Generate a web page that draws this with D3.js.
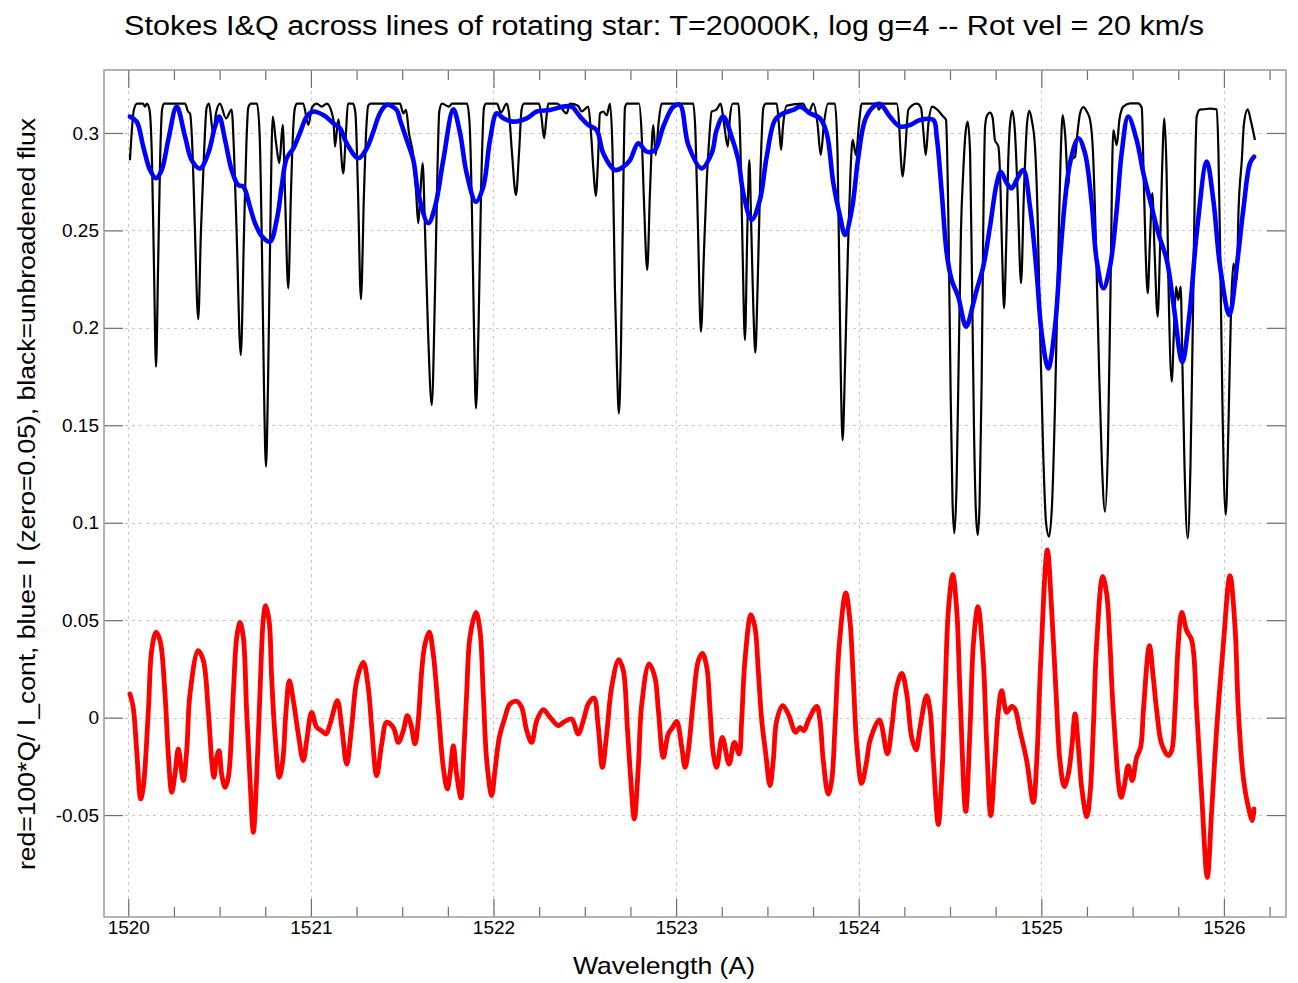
<!DOCTYPE html>
<html>
<head>
<meta charset="utf-8">
<script src="https://cdn.jsdelivr.net/npm/d3@7/dist/d3.min.js"></script>
<style>
  html, body { margin: 0; padding: 0; background: #fff; }
  svg { display: block; font-family: "Liberation Sans", Arial, Helvetica, sans-serif; }
</style>
</head>
<body>
<svg id="chart" width="1298" height="983"></svg>
<script>
// Unbroadened flux (black)
const wlBlack = [
  1520.009,1520.031,1520.048,1520.081,1520.091,1520.102,1520.116,1520.130,1520.141,1520.152,1520.163,1520.174,1520.185,1520.196,
  1520.311,1520.327,1520.338,1520.352,1520.365,1520.383,1520.398,1520.415,1520.429,1520.442,1520.466,1520.480,1520.502,1520.535,
  1520.566,1520.579,1520.593,1520.616,1520.634,1520.647,1520.657,1520.672,1520.705,1520.719,1520.732,1520.743,1520.754,1520.765,
  1520.776,1520.791,1520.809,1520.827,1520.846,1520.858,1520.876,1520.891,1520.902,1520.913,1520.924,1520.958,1520.986,1521.006,
  1521.032,1521.059,1521.087,1521.123,1521.132,1521.150,1521.177,1521.192,1521.203,1521.231,1521.244,1521.258,1521.274,1521.291,
  1521.305,1521.314,1521.329,1521.488,1521.506,1521.521,1521.537,1521.561,1521.576,1521.588,1521.600,1521.612,1521.625,1521.641,
  1521.662,1521.680,1521.693,1521.703,1521.718,1521.756,1521.773,1521.855,1521.869,1521.882,1521.893,1521.904,1521.918,1521.932,
  1521.948,1521.959,1522.019,1522.041,1522.072,1522.085,1522.101,1522.123,1522.140,1522.154,1522.167,1522.249,1522.263,1522.277,
  1522.290,1522.300,1522.348,1522.401,1522.419,1522.463,1522.483,1522.519,1522.534,1522.548,1522.560,1522.572,1522.583,1522.601,
  1522.620,1522.638,1522.652,1522.665,1522.676,1522.687,1522.698,1522.709,1522.720,1522.731,1522.797,1522.811,1522.824,1522.842,
  1522.857,1522.875,1522.888,1522.904,1522.921,1523.094,1523.106,1523.120,1523.136,1523.153,1523.168,1523.180,1523.195,1523.219,
  1523.244,1523.262,1523.283,1523.295,1523.310,1523.341,1523.353,1523.364,1523.377,1523.390,1523.401,1523.412,1523.423,1523.434,
  1523.446,1523.462,1523.478,1523.492,1523.551,1523.564,1523.575,1523.585,1523.606,1523.695,1523.724,1523.751,1523.774,1523.792,
  1523.810,1523.832,1523.870,1523.884,1523.895,1523.903,1523.912,1523.925,1523.941,1523.955,1523.967,1523.985,1524.002,1524.016,
  1524.095,1524.111,1524.128,1524.208,1524.221,1524.229,1524.241,1524.254,1524.272,1524.318,1524.341,1524.355,1524.367,1524.382,
  1524.403,1524.463,1524.478,1524.492,1524.503,1524.514,1524.524,1524.536,1524.547,1524.560,1524.573,1524.585,1524.597,1524.610,
  1524.621,1524.631,1524.642,1524.652,1524.662,1524.673,1524.682,1524.692,1524.703,1524.719,1524.733,1524.746,1524.765,1524.777,
  1524.785,1524.796,1524.807,1524.819,1524.829,1524.841,1524.856,1524.870,1524.889,1524.905,1524.922,1524.934,1524.949,1524.966,
  1524.979,1524.993,1525.009,1525.026,1525.042,1525.059,1525.075,1525.091,1525.105,1525.117,1525.130,1525.148,1525.157,1525.185,
  1525.198,1525.212,1525.230,1525.249,1525.267,1525.283,1525.300,1525.316,1525.332,1525.349,1525.365,1525.379,1525.394,1525.413,
  1525.428,1525.449,1525.486,1525.530,1525.550,1525.560,1525.571,1525.583,1525.595,1525.608,1525.620,1525.637,1525.650,1525.661,
  1525.674,1525.686,1525.697,1525.714,1525.727,1525.738,1525.750,1525.763,1525.773,1525.784,1525.802,1525.817,1525.831,1525.842,
  1525.851,1525.869,1525.887,1525.924,1525.961,1525.970,1525.981,1525.992,1526.010,1526.025,1526.039,1526.052,1526.070,1526.080,
  1526.098,1526.110,1526.130,1526.148,1526.170
];
const fluxBlack = [
  0.286,0.312,0.315,0.315,0.3135,0.315,0.312,0.285,0.23,0.180,0.23,0.285,0.312,0.315,
  0.315,0.311,0.310,0.29,0.25,0.2044,0.25,0.29,0.313,0.315,0.299,0.31,0.315,0.3075,
  0.312,0.29,0.25,0.186,0.25,0.295,0.313,0.315,0.315,0.30,0.24,0.17,0.1288,0.17,
  0.24,0.3084,0.295,0.2845,0.3041,0.27,0.2203,0.27,0.30,0.313,0.315,0.315,0.3041,0.313,
  0.315,0.3135,0.315,0.307,0.293,0.307,0.2793,0.300,0.315,0.315,0.31,0.27,0.2147,0.27,
  0.305,0.314,0.315,0.315,0.310,0.3118,0.30,0.2878,0.27,0.2537,0.27,0.2845,0.25,0.2,
  0.1604,0.22,0.28,0.311,0.315,0.3135,0.315,0.315,0.305,0.26,0.2,0.1587,0.2,0.27,
  0.313,0.315,0.315,0.3105,0.315,0.31,0.29,0.2682,0.29,0.312,0.315,0.315,0.308,0.2973,
  0.308,0.315,0.315,0.310,0.315,0.314,0.311,0.3135,0.30,0.28,0.2677,0.285,0.310,0.311,
  0.309,0.315,0.29,0.22,0.18,0.1561,0.19,0.26,0.313,0.315,0.315,0.30,0.265,0.2297,
  0.27,0.304,0.2887,0.305,0.315,0.315,0.30,0.25,0.198,0.24,0.2759,0.295,0.311,0.3118,
  0.315,0.305,0.293,0.308,0.315,0.315,0.29,0.24,0.1938,0.25,0.2861,0.25,0.21,0.1873,
  0.22,0.28,0.313,0.315,0.315,0.303,0.2913,0.303,0.314,0.315,0.310,0.315,0.305,0.2887,
  0.305,0.315,0.315,0.29,0.22,0.17,0.1424,0.18,0.24,0.28,0.2964,0.2887,0.305,0.315,
  0.315,0.312,0.315,0.315,0.305,0.29,0.2776,0.29,0.312,0.315,0.313,0.30,0.2887,0.305,
  0.3135,0.3084,0.3067,0.25,0.17,0.11,0.0946,0.12,0.18,0.25,0.281,0.300,0.3058,0.29,
  0.22,0.15,0.105,0.0937,0.11,0.17,0.25,0.3033,0.309,0.3104,0.308,0.2964,0.293,0.27,
  0.24,0.21,0.24,0.2861,0.305,0.3114,0.300,0.27,0.2229,0.27,0.305,0.3114,0.306,0.292,
  0.26,0.20,0.14,0.10,0.0928,0.11,0.16,0.23,0.285,0.3092,0.30,0.2724,0.2861,0.2878,
  0.300,0.31,0.3132,0.311,0.3067,0.29,0.24,0.18,0.13,0.1057,0.14,0.22,0.3015,0.2938,
  0.307,0.3135,0.3152,0.3152,0.313,0.28,0.24,0.2177,0.245,0.2691,0.24,0.2057,0.24,0.28,
  0.3075,0.28,0.22,0.1724,0.20,0.2211,0.2143,0.2211,0.18,0.13,0.092,0.13,0.21,0.28,
  0.3084,0.312,0.3121,0.3125,0.3121,0.29,0.23,0.16,0.104,0.15,0.21,0.233,0.2246,0.26,
  0.2861,0.305,0.3121,0.306,0.2964
];

// Rotationally broadened Stokes I (blue)
const wlBlue = [
  1520.009,1520.046,1520.082,1520.119,1520.152,1520.183,1520.219,1520.265,1520.311,1520.347,1520.393,1520.438,1520.475,1520.498,
  1520.530,1520.566,1520.602,1520.630,1520.666,1520.694,1520.732,1520.776,1520.813,1520.840,1520.867,1520.904,1520.940,1520.977,
  1521.013,1521.068,1521.123,1521.159,1521.196,1521.260,1521.306,1521.342,1521.378,1521.415,1521.470,1521.488,1521.525,1521.561,
  1521.588,1521.643,1521.680,1521.725,1521.780,1521.817,1521.853,1521.904,1521.944,1521.981,1522.018,1522.054,1522.108,1522.182,
  1522.237,1522.309,1522.382,1522.428,1522.474,1522.519,1522.565,1522.601,1522.665,1522.711,1522.748,1522.793,1522.839,1522.884,
  1522.930,1522.985,1523.021,1523.067,1523.140,1523.195,1523.222,1523.258,1523.304,1523.341,1523.368,1523.414,1523.459,1523.496,
  1523.542,1523.587,1523.642,1523.679,1523.733,1523.788,1523.825,1523.861,1523.898,1523.925,1523.962,1523.998,1524.035,1524.080,
  1524.117,1524.171,1524.226,1524.281,1524.336,1524.409,1524.427,1524.455,1524.482,1524.509,1524.545,1524.588,1524.628,1524.646,
  1524.682,1524.719,1524.756,1524.778,1524.811,1524.838,1524.865,1524.901,1524.938,1524.975,1525.002,1525.038,1525.075,1525.102,
  1525.130,1525.157,1525.203,1525.239,1525.276,1525.303,1525.340,1525.376,1525.413,1525.440,1525.476,1525.522,1525.559,1525.595,
  1525.641,1525.687,1525.723,1525.772,1525.812,1525.851,1525.906,1525.942,1525.979,1526.030,1526.070,1526.106,1526.143,1526.165
];
const fluxBlue = [
  0.3084,0.3058,0.293,0.281,0.2768,0.281,0.2964,0.3135,0.2981,0.2861,0.2818,0.2896,0.3033,0.3084,
  0.2964,0.281,0.2733,0.2724,0.2622,0.2537,0.247,0.2442,0.2554,0.2724,0.287,0.2921,0.3,0.3084,
  0.311,0.3092,0.305,0.3024,0.2947,0.287,0.2921,0.3007,0.3101,0.3144,0.3118,0.3067,0.2964,0.2861,
  0.2691,0.2537,0.2622,0.2861,0.3121,0.2998,0.2793,0.2647,0.2724,0.2964,0.3101,0.3075,0.3058,0.3075,
  0.311,0.3118,0.3135,0.3135,0.3084,0.3041,0.3015,0.2896,0.281,0.2827,0.2861,0.2947,0.2904,0.2913,
  0.3033,0.3135,0.3144,0.2938,0.2818,0.2896,0.3015,0.3084,0.2981,0.2861,0.2691,0.2554,0.2656,0.2878,
  0.3067,0.3101,0.3118,0.3135,0.3101,0.3075,0.2998,0.2742,0.2571,0.2477,0.2605,0.2878,0.3067,0.3135,
  0.3149,0.3084,0.3033,0.3041,0.3067,0.3067,0.2981,0.2691,0.2383,0.2246,0.216,0.2006,0.2127,0.2194,
  0.2314,0.2519,0.2742,0.2801,0.2742,0.2716,0.2759,0.281,0.2622,0.2279,0.1972,0.1792,0.2006,0.2348,
  0.2656,0.2845,0.2973,0.2896,0.2639,0.2348,0.2203,0.2314,0.2605,0.2896,0.3084,0.2964,0.2793,0.2656,
  0.2485,0.2348,0.2127,0.1826,0.2075,0.2485,0.2853,0.2656,0.2314,0.2066,0.2314,0.2605,0.2845,0.2878
];

// 100*Q/I_cont (red)
const wlRed = [
  1520.009,1520.027,1520.046,1520.068,1520.082,1520.110,1520.128,1520.152,1520.174,1520.201,1520.219,1520.238,1520.256,1520.274,
  1520.301,1520.320,1520.338,1520.383,1520.411,1520.438,1520.457,1520.469,1520.484,1520.497,1520.511,1520.530,1520.548,1520.575,
  1520.594,1520.612,1520.630,1520.648,1520.666,1520.685,1520.703,1520.721,1520.739,1520.752,1520.771,1520.785,1520.803,1520.827,
  1520.846,1520.864,1520.882,1520.904,1520.931,1520.958,1520.977,1521.004,1521.032,1521.059,1521.083,1521.105,1521.145,1521.169,
  1521.196,1521.223,1521.251,1521.287,1521.314,1521.333,1521.360,1521.388,1521.415,1521.451,1521.479,1521.506,1521.528,1521.547,
  1521.570,1521.588,1521.607,1521.625,1521.648,1521.670,1521.698,1521.725,1521.747,1521.762,1521.780,1521.798,1521.822,1521.835,
  1521.853,1521.871,1521.904,1521.926,1521.944,1521.963,1521.990,1522.008,1522.032,1522.063,1522.090,1522.127,1522.154,1522.182,
  1522.209,1522.237,1522.273,1522.309,1522.355,1522.382,1522.428,1522.464,1522.492,1522.519,1522.550,1522.574,1522.596,1522.620,
  1522.647,1522.686,1522.711,1522.733,1522.751,1522.771,1522.793,1522.812,1522.852,1522.884,1522.903,1522.930,1522.957,1522.981,
  1523.003,1523.031,1523.049,1523.067,1523.094,1523.122,1523.144,1523.168,1523.186,1523.204,1523.222,1523.253,1523.290,1523.319,
  1523.345,1523.359,1523.377,1523.410,1523.432,1523.450,1523.469,1523.491,1523.514,1523.532,1523.551,1523.584,1523.614,1523.655,
  1523.679,1523.700,1523.724,1523.770,1523.788,1523.806,1523.833,1523.852,1523.870,1523.894,1523.929,1523.952,1523.970,1523.989,
  1524.016,1524.044,1524.062,1524.113,1524.157,1524.181,1524.208,1524.236,1524.263,1524.290,1524.314,1524.336,1524.372,1524.391,
  1524.409,1524.436,1524.455,1524.473,1524.491,1524.515,1524.537,1524.555,1524.586,1524.610,1524.628,1524.653,1524.682,1524.701,
  1524.723,1524.746,1524.765,1524.783,1524.811,1524.838,1524.856,1524.883,1524.920,1524.956,1524.975,1524.997,1525.033,1525.057,
  1525.081,1525.102,1525.126,1525.148,1525.167,1525.185,1525.203,1525.221,1525.249,1525.267,1525.285,1525.303,1525.336,1525.358,
  1525.376,1525.394,1525.437,1525.453,1525.476,1525.498,1525.522,1525.544,1525.559,1525.592,1525.613,1525.632,1525.659,1525.696,
  1525.714,1525.732,1525.750,1525.769,1525.796,1525.824,1525.851,1525.878,1525.909,1525.933,1525.961,1525.997,1526.033,1526.061,
  1526.079,1526.106,1526.134,1526.156,1526.165
];
const qRed = [
  0.0122,0.0053,-0.0169,-0.0417,-0.0358,0.0036,0.0344,0.0438,0.0395,0.0122,-0.0186,-0.0383,-0.0289,-0.0161,
  -0.0323,-0.0169,0.0122,0.0344,0.0293,0.0036,-0.0221,-0.0306,-0.0204,-0.0169,-0.0289,-0.0358,-0.0306,0.0122,
  0.0412,0.0489,0.0412,0.0036,-0.0306,-0.0589,-0.0306,0.0122,0.0498,0.0575,0.0498,0.0207,-0.0084,-0.0306,
  -0.0221,0.0036,0.019,0.0087,-0.0084,-0.0221,-0.0118,0.0027,-0.005,-0.0067,-0.0084,-0.0033,0.0087,-0.005,
  -0.0238,-0.005,0.019,0.0284,0.0156,-0.005,-0.0298,-0.0135,-0.0024,-0.005,-0.0127,-0.0067,0.001,-0.0033,
  -0.0135,-0.0015,0.0241,0.0378,0.0438,0.0327,0.0036,-0.0255,-0.0366,-0.0289,-0.0144,-0.0289,-0.0412,-0.0221,
  0.0122,0.0412,0.054,0.0446,0.0122,-0.0221,-0.04,-0.0272,-0.0101,0.0002,0.007,0.0084,0.0053,-0.0067,
  -0.0127,-0.0015,0.0041,0.0002,-0.0041,-0.0024,-0.0007,-0.0084,-0.0015,0.007,0.0101,-0.005,-0.0255,-0.0084,
  0.0156,0.0298,0.0241,-0.005,-0.0306,-0.052,-0.0255,0.007,0.0276,0.0207,0.0036,-0.0204,-0.0084,-0.005,
  -0.0019,-0.0152,-0.0255,-0.0169,0.0087,0.0293,0.033,0.0259,0.0036,-0.0186,-0.0255,-0.0101,-0.0238,-0.0127,
  -0.0186,-0.0015,0.0293,0.0529,0.0463,0.0241,-0.0015,-0.0186,-0.0349,-0.0221,-0.0015,0.0062,0.0019,-0.0075,
  -0.005,-0.0067,-0.0015,0.0058,-0.0015,-0.0221,-0.0392,-0.0323,-0.005,0.0378,0.064,0.0498,0.0207,-0.0135,
  -0.0337,-0.0221,-0.0118,-0.0012,-0.0186,-0.005,0.0156,0.0227,0.0122,-0.0101,-0.0166,-0.005,0.0113,0.0036,
  -0.0221,-0.0549,-0.0306,0.0122,0.0549,0.0734,0.0549,0.0122,-0.0481,-0.005,0.0378,0.057,0.0293,-0.0135,
  -0.0503,-0.0221,0.0036,0.0139,0.0027,0.0058,0.0044,-0.0067,-0.0221,-0.0435,-0.0221,0.0293,0.086,0.0549,
  0.0122,-0.0221,-0.0354,-0.0289,-0.0152,0.0019,-0.0152,-0.0358,-0.0508,-0.0392,-0.005,0.0378,0.0724,0.0635,
  0.0378,0.0036,-0.0409,-0.0358,-0.0246,-0.0323,-0.0204,-0.0152,0.0036,0.0369,0.0207,0.0036,-0.0135,-0.0195,
  -0.0169,0.0036,0.0378,0.054,0.0446,0.0395,0.0036,-0.0392,-0.082,-0.0477,-0.005,0.0378,0.0729,0.0463,
  0.0036,-0.0306,-0.046,-0.0529,-0.0468
];

// Axis ticks and labels
const xMajorTicks = [1520, 1521, 1522, 1523, 1524, 1525, 1526];
const xTickLabels = ["1520", "1521", "1522", "1523", "1524", "1525", "1526"];
const xMinorTicks = [1520.25, 1520.5, 1520.75, 1521.25, 1521.5, 1521.75, 1522.25, 1522.5, 1522.75,
                     1523.25, 1523.5, 1523.75, 1524.25, 1524.5, 1524.75, 1525.25, 1525.5, 1525.75, 1526.25];
const yTicks = [-0.05, 0, 0.05, 0.1, 0.15, 0.2, 0.25, 0.3];
const yTickLabels = ["-0.05", "0", "0.05", "0.1", "0.15", "0.2", "0.25", "0.3"];

const titleText = "Stokes I&Q across lines of rotating star: T=20000K, log g=4 -- Rot vel = 20 km/s";
const xLabelText = "Wavelength (A)";
const yLabelText = "red=100*Q/ I_cont, blue= I (zero=0.05), black=unbroadened flux";

// Layout
const W = 1298, H = 983;
const plot = { left: 104, right: 1286, top: 70, bottom: 917 };

const x = d3.scaleLinear().domain([1519.867, 1526.340]).range([plot.left, plot.right]);
const y = d3.scaleLinear().domain([-0.1023, 0.3323]).range([plot.bottom, plot.top]);

const svg = d3.select("#chart");
svg.append("rect").attr("width", W).attr("height", H).attr("fill", "#fff");

// Dotted grid
const grid = svg.append("g").attr("stroke", "#c8c8c8").attr("stroke-width", 1)
  .attr("stroke-dasharray", "3,4").attr("fill", "none");
grid.selectAll("line.v").data(xMajorTicks).join("line").attr("class", "v")
  .attr("x1", d => Math.round(x(d)) + 0.5).attr("x2", d => Math.round(x(d)) + 0.5)
  .attr("y1", plot.top).attr("y2", plot.bottom);
grid.selectAll("line.h").data(yTicks).join("line").attr("class", "h")
  .attr("y1", d => Math.round(y(d)) + 0.5).attr("y2", d => Math.round(y(d)) + 0.5)
  .attr("x1", plot.left).attr("x2", plot.right);

// Spectra
svg.append("defs").append("clipPath").attr("id", "plotClip")
  .append("rect").attr("x", plot.left).attr("y", plot.top)
  .attr("width", plot.right - plot.left).attr("height", plot.bottom - plot.top);

const lines = svg.append("g").attr("clip-path", "url(#plotClip)");

const lineMono = d3.line().x(d => x(d[0])).y(d => y(d[1])).curve(d3.curveMonotoneX);
const lineSmooth = d3.line().x(d => x(d[0])).y(d => y(d[1])).curve(d3.curveCatmullRom.alpha(0.5));

lines.append("path").datum(d3.zip(wlBlack, fluxBlack))
  .attr("d", lineMono).attr("fill", "none").attr("stroke", "#000")
  .attr("stroke-width", 2.2).attr("stroke-linejoin", "round");

lines.append("path").datum(d3.zip(wlBlue, fluxBlue))
  .attr("d", lineSmooth).attr("fill", "none").attr("stroke", "#0000ff")
  .attr("stroke-width", 4.6).attr("stroke-linejoin", "round").attr("stroke-linecap", "round");

lines.append("path").datum(d3.zip(wlRed, qRed))
  .attr("d", lineSmooth).attr("fill", "none").attr("stroke", "#ff0000")
  .attr("stroke-width", 4.8).attr("stroke-linejoin", "round").attr("stroke-linecap", "round");

// Axes (ticks pointing inward on all four sides)
const axisColor = "#6e6e6e";
function styleAxis(g) {
  g.select(".domain").remove();
  g.selectAll(".tick line").attr("stroke", axisColor).attr("stroke-width", 1.2);
  g.selectAll(".tick text").attr("fill", "#000").attr("font-size", 19)
    .attr("font-family", "'Liberation Sans', Arial, sans-serif");
}

svg.append("g").attr("transform", `translate(0,${plot.bottom})`)
  .call(d3.axisBottom(x).tickValues(xMajorTicks).tickSize(-18).tickPadding(4)
    .tickFormat((d, i) => xTickLabels[i]))
  .call(styleAxis);
svg.append("g").attr("transform", `translate(0,${plot.bottom})`)
  .call(d3.axisBottom(x).tickValues(xMinorTicks).tickSize(-10).tickFormat(""))
  .call(styleAxis);
svg.append("g").attr("transform", `translate(0,${plot.top})`)
  .call(d3.axisTop(x).tickValues(xMajorTicks).tickSize(-18).tickFormat(""))
  .call(styleAxis);
svg.append("g").attr("transform", `translate(0,${plot.top})`)
  .call(d3.axisTop(x).tickValues(xMinorTicks).tickSize(-10).tickFormat(""))
  .call(styleAxis);

svg.append("g").attr("transform", `translate(${plot.left},0)`)
  .call(d3.axisLeft(y).tickValues(yTicks).tickSize(-19).tickPadding(5)
    .tickFormat((d, i) => yTickLabels[i]))
  .call(styleAxis);
svg.append("g").attr("transform", `translate(${plot.right},0)`)
  .call(d3.axisRight(y).tickValues(yTicks).tickSize(-19).tickFormat(""))
  .call(styleAxis);

// Frame
svg.append("rect").attr("x", plot.left).attr("y", plot.top)
  .attr("width", plot.right - plot.left).attr("height", plot.bottom - plot.top)
  .attr("fill", "none").attr("stroke", "#9a9a9a").attr("stroke-width", 1.5);

// Titles
svg.append("text").attr("x", 664).attr("y", 35).attr("text-anchor", "middle")
  .attr("font-size", 27).attr("textLength", 1080).attr("lengthAdjust", "spacingAndGlyphs")
  .text(titleText);

svg.append("text").attr("x", 664).attr("y", 974).attr("text-anchor", "middle")
  .attr("font-size", 24).attr("textLength", 182).attr("lengthAdjust", "spacingAndGlyphs")
  .text(xLabelText);

svg.append("text").attr("transform", "translate(35,494) rotate(-90)").attr("text-anchor", "middle")
  .attr("font-size", 23).attr("textLength", 752).attr("lengthAdjust", "spacingAndGlyphs")
  .text(yLabelText);
</script>
</body>
</html>
